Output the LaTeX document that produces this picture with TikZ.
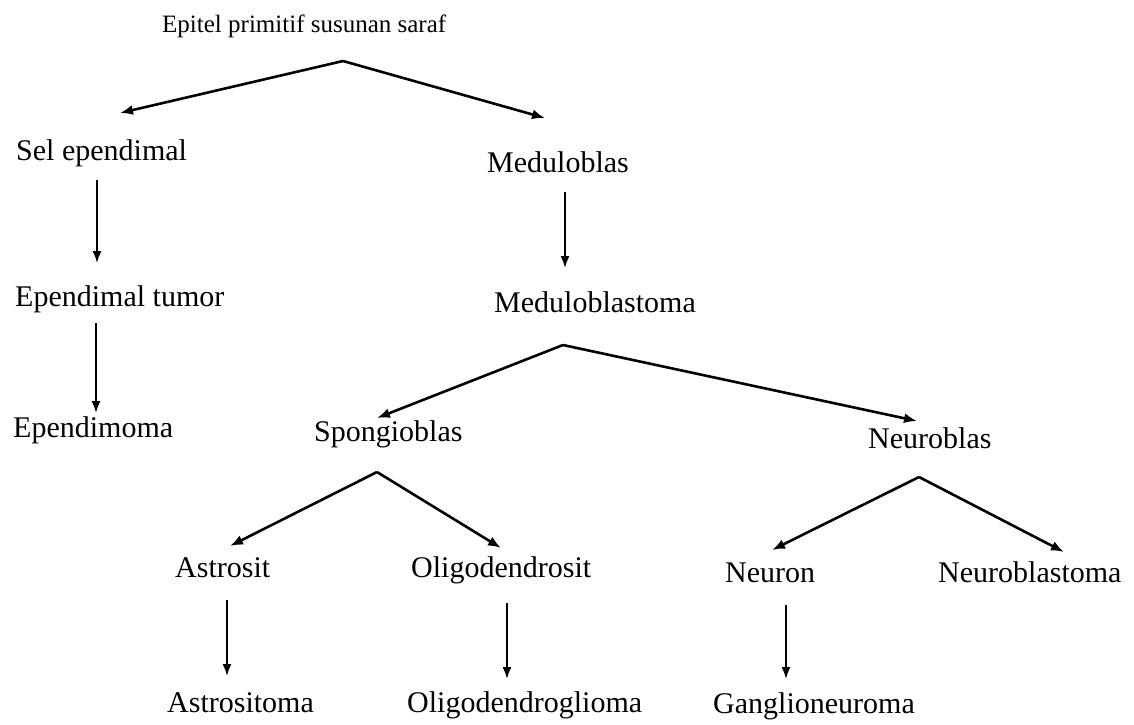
\documentclass[tikz,border=0pt]{standalone}
\usepackage{fontspec}
\setmainfont{Liberation Serif}
\usetikzlibrary{arrows.meta}
\begin{document}
\begin{tikzpicture}[x=1pt,y=-1pt,
  lbl/.style={anchor=base west,inner sep=0pt,font=\fontsize{30}{36}\selectfont},
  ttl/.style={anchor=base west,inner sep=0pt,font=\fontsize{25}{30}\selectfont},
  diag/.style={line width=2.6pt,-{Latex[length=13pt,width=10pt]}},
  vert/.style={line width=1.8pt,-{Latex[length=12pt,width=9pt]}}]
\useasboundingbox (0,0) rectangle (1134,724);
% labels
\node[ttl] (title) at (162,32) {Epitel primitif susunan saraf};
\node[lbl] (sel) at (16,160) {Sel ependimal};
\node[lbl] (medb) at (487,172) {Meduloblas};
\node[lbl] (etum) at (15,306) {Ependimal tumor};
\node[lbl] (medbt) at (494,312) {Meduloblastoma};
\node[lbl] (epm) at (13,437) {Ependimoma};
\node[lbl] (spg) at (314,441) {Spongioblas};
\node[lbl] (nrb) at (868,448) {Neuroblas};
\node[lbl] (ast) at (175,577) {Astrosit};
\node[lbl] (olig) at (411,577) {Oligodendrosit};
\node[lbl] (neu) at (725,582) {Neuron};
\node[lbl] (nbt) at (938,582) {Neuroblastoma};
\node[lbl] (asta) at (167,712) {Astrositoma};
\node[lbl] (oligm) at (407,712) {Oligodendroglioma};
\node[lbl] (gang) at (713,713) {Ganglioneuroma};
% connector end points
\coordinate (title-s) at (343,61);
\coordinate (sel-n) at (120,113);
\coordinate (medb-n) at (545,118);
\coordinate (sel-s) at (97,180);
\coordinate (etum-n) at (97,263);
\coordinate (medb-s) at (565,192);
\coordinate (medbt-n) at (565,268);
\coordinate (etum-s) at (96,323);
\coordinate (epm-n) at (96,413);
\coordinate (medbt-s) at (563,345);
\coordinate (spg-n) at (377,418);
\coordinate (nrb-n) at (917,421);
\coordinate (spg-s) at (377,472);
\coordinate (ast-n) at (230,546);
\coordinate (olig-n) at (501,548);
\coordinate (nrb-s) at (919,477);
\coordinate (neu-n) at (772,550);
\coordinate (nbt-n) at (1064,552);
\coordinate (ast-s) at (227,600);
\coordinate (asta-n) at (227,676);
\coordinate (olig-s) at (507,603);
\coordinate (oligm-n) at (507,679);
\coordinate (neu-s) at (786,605);
\coordinate (gang-n) at (786,679);
% connectors
\draw[diag] (title-s) -- (sel-n);
\draw[diag] (title-s) -- (medb-n);
\draw[vert] (sel-s) -- (etum-n);
\draw[vert] (medb-s) -- (medbt-n);
\draw[vert] (etum-s) -- (epm-n);
\draw[diag] (medbt-s) -- (spg-n);
\draw[diag] (medbt-s) -- (nrb-n);
\draw[diag] (spg-s) -- (ast-n);
\draw[diag] (spg-s) -- (olig-n);
\draw[diag] (nrb-s) -- (neu-n);
\draw[diag] (nrb-s) -- (nbt-n);
\draw[vert] (ast-s) -- (asta-n);
\draw[vert] (olig-s) -- (oligm-n);
\draw[vert] (neu-s) -- (gang-n);
\end{tikzpicture}
\end{document}
